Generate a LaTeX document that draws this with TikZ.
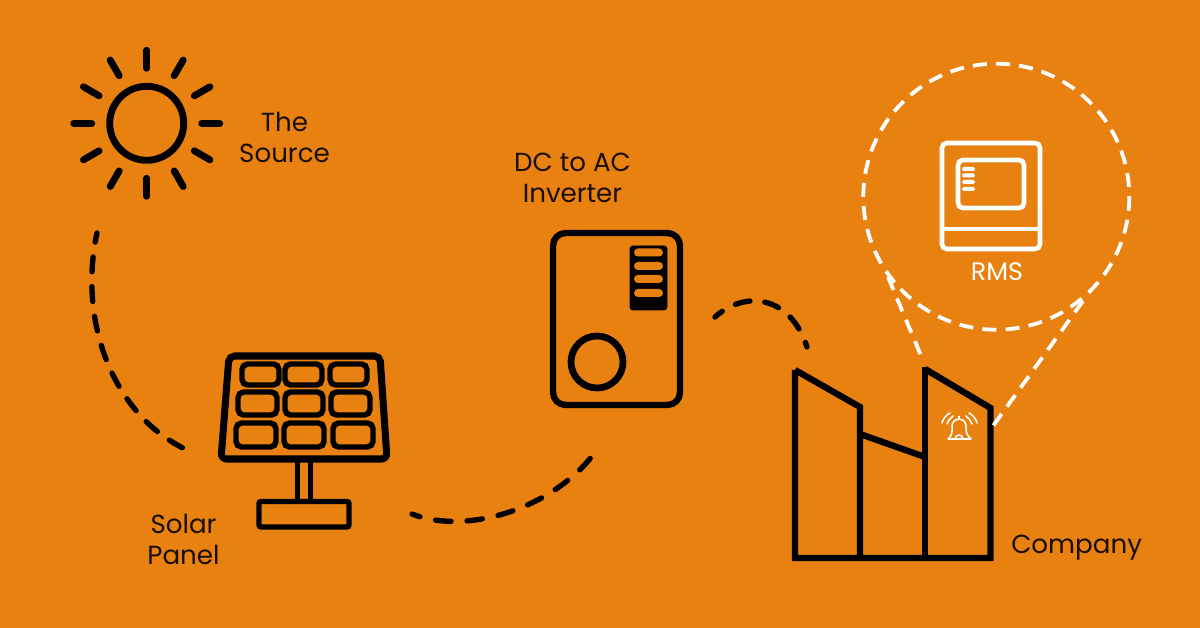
\documentclass[tikz,border=0pt]{standalone}
\usepackage{xcolor}
\usepackage{fontspec}
\setmainfont{Poppins}
\definecolor{bgorange}{HTML}{E8810F}
\definecolor{inkblack}{HTML}{1A0E02}
\tikzset{
  wirelink/.style={black,line width=3.8pt,line cap=round,dash pattern=on 10.6pt off 10.6pt},
  ziplink/.style={white,line width=2.7pt,dash pattern=on 10pt off 6.5pt},
  label/.style={text=inkblack,font=\fontsize{18.6}{22}\selectfont,align=center,inner sep=0pt},
  blackline/.style={black,line width=4.5pt,rounded corners=4pt},
  whiteline/.style={white,line width=3.3pt,rounded corners=3.5pt},
  bellline/.style={white,line width=1.1pt,line cap=round,line join=round}
}

\begin{document}
\begin{tikzpicture}[x=0.025cm,y=-0.025cm]
    \fill[bgorange] (0,0) rectangle (1200,628);
    \useasboundingbox (0,0) rectangle (1200,628);

    % sun
    \draw[black,line width=4.9pt] (146.7,123.3) circle (37);
    \foreach \a in {0,30,...,330}
        \draw[black,line width=4.9pt,line cap=round] (146.7,123.3) ++(\a:55) -- ++(\a:18);
    \node[label] (source) at (284.5,137.5) {The\\Source};

    % solar panel
    \draw[blackline,line width=5pt] (229,356) -- (380,356) -- (387,459) -- (221,459) -- cycle;
    \foreach \xa/\xb/\ya/\yb in {242/279/364/385, 285/322/364/385, 330/367/364/385,
                                 238/277/392/415, 285/323/392/415, 331/370/392/415,
                                 236/276/423/447, 284/324/423/447, 333/373/423/447}
        \draw[blackline,line width=3.9pt] (\xa,\ya) rectangle (\xb,\yb);
    \draw[black,line width=4pt] (297.5,460) -- (297.5,500);
    \draw[black,line width=4pt] (310.5,460) -- (310.5,500);
    \draw[black,line width=3.8pt,rounded corners=1.5pt] (259,501.5) rectangle (349,527);
    \node[label] (panel) at (183.5,539.5) {Solar\\Panel};

    % inverter
    \draw[blackline,rounded corners=9pt] (553,233) rectangle (680,405);
    \filldraw[black,rounded corners=2pt] (630,246) rectangle (667,310);
    \foreach \y in {248.5,262,275,289}
        \fill[bgorange,rounded corners=2.8pt] (634,\y) rectangle (663,\y+8);
    \draw[black,line width=4.8pt] (597,362) circle (26);
    \node[label] (inverter) at (572.5,177.5) {DC to AC\\Inverter};

    % company
    \draw[blackline,rounded corners=0pt,line join=miter] (795,370) -- (860,407) -- (860,558)
        (925,369) -- (990.5,408) -- (990.5,558) -- (795,558) -- (795,370);
    \draw[blackline,rounded corners=0pt] (925,367) -- (925,558);
    \draw[blackline,rounded corners=0pt] (860,434) -- (925,457);
    \node[label,anchor=west] (company) at (1011,548) {Company};

    % bell
    \draw[bellline] (948,439) .. controls (953,435) and (952,431) .. (952,426)
        .. controls (952,417) and (966,417) .. (966,426)
        .. controls (966,431) and (966,435) .. (971,439) -- cycle;
    \draw[bellline] (959,416.5) -- (959,419);
    \draw[bellline] (955,439) arc (180:360:4);
    \draw[bellline] (942,423) .. controls (943,419) and (946,415) .. (950,413);
    \draw[bellline] (947,424) .. controls (948,421) and (950,418) .. (953,416);
    \draw[bellline] (977,423) .. controls (976,419) and (973,415) .. (969,413);
    \draw[bellline] (972,424) .. controls (971,421) and (969,418) .. (966,416);

    % rms
    \draw[ziplink] (996.3,196.7) circle (133);
    \coordinate (zipleft) at (888,277);
    \coordinate (zipleftend) at (922,358);
    \coordinate (zipright) at (1083,301);
    \coordinate (ziprightend) at (993,426);
    \draw[ziplink] (zipleft) -- (zipleftend);
    \draw[ziplink] (zipright) -- (ziprightend);
    \draw[whiteline] (942,143) rectangle (1040,249);
    \draw[whiteline,rounded corners=0pt] (942,229) -- (1040,229);
    \draw[whiteline] (958,160) rectangle (1024,208);
    \foreach \y in {167,173.5,180,187}
        \fill[white,rounded corners=1.2pt] (962,\y) rectangle (975,\y+4);
    \node[label,text=white,font=\fontsize{18}{20}\selectfont] (rms) at (997,272) {RMS};

    % dashed links
    \coordinate (suna) at (97,233);
    \coordinate (panela) at (187,450);
    \coordinate (panelb) at (412,514);
    \coordinate (inverterb) at (593,455);
    \coordinate (inverterc) at (715,317);
    \coordinate (companyc) at (807,347);
    \draw[wirelink,dash phase=4pt] (suna) .. controls (78,320) and (112,415) .. (panela);
    \draw[wirelink,dash pattern=on 11pt off 11.4pt,dash phase=5pt] (panelb) .. controls (465,535) and (550,510) .. (inverterb);
    \draw[wirelink,dash phase=4pt] (inverterc) .. controls (745,290) and (790,295) .. (companyc);
\end{tikzpicture}
\end{document}
